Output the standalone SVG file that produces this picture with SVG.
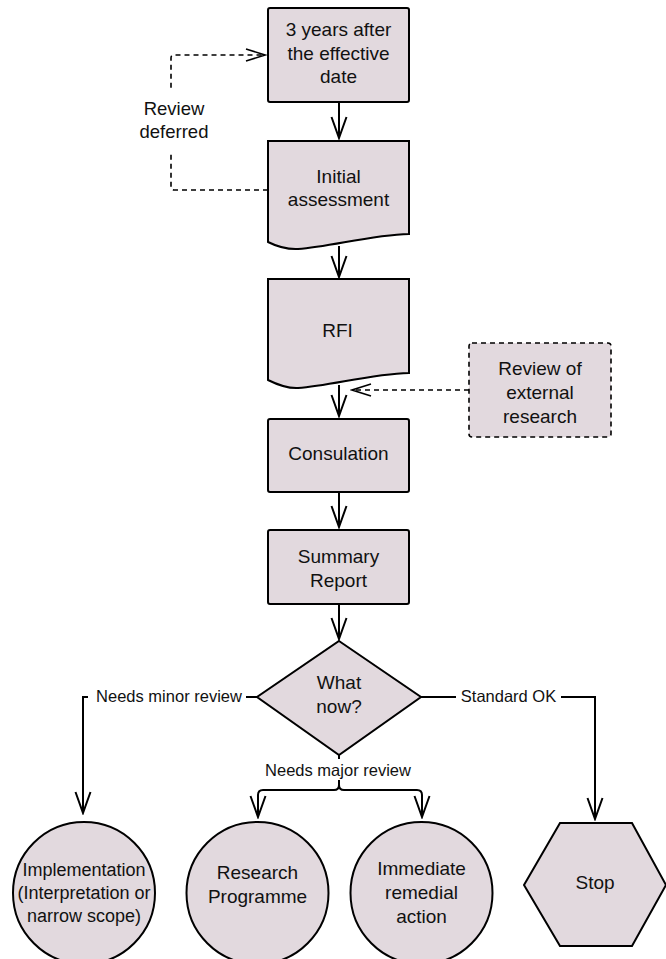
<svg xmlns="http://www.w3.org/2000/svg" width="666" height="959" viewBox="0 0 666 959">
<defs>
<style>
.n{fill:#e2d9de;stroke:#000;stroke-width:2}
.nd{fill:#e2d9de;stroke:#000;stroke-width:1.6;stroke-dasharray:5 4}
.t{font-family:"Liberation Sans",Arial,sans-serif;font-size:19px;fill:#111;text-anchor:middle}
.lb{font-family:"Liberation Sans",Arial,sans-serif;font-size:16.5px;fill:#111;text-anchor:middle}
.c{fill:none;stroke:#000;stroke-width:2}
.cd{fill:none;stroke:#000;stroke-width:1.6;stroke-dasharray:5 4}
.bg{fill:#fff}
</style>
<marker id="a" markerUnits="userSpaceOnUse" markerWidth="24" markerHeight="18" viewBox="0 0 24 18" refX="22" refY="9" orient="auto">
<path d="M1,1.5 L22,9 L1,16.5" fill="none" stroke="#000" stroke-width="2"/>
</marker>
<marker id="ad" markerUnits="userSpaceOnUse" markerWidth="22" markerHeight="16" viewBox="0 0 22 16" refX="20" refY="8" orient="auto">
<path d="M1,2 L20,8 L1,14" fill="none" stroke="#000" stroke-width="1.6"/>
</marker>
</defs>
<rect width="666" height="959" fill="#fff"/>

<g id="n-three-years">
<rect class="n" x="268" y="8" width="141" height="94" rx="2"/>
<text class="t" x="338.5" y="36">3 years after</text>
<text class="t" x="338.5" y="60">the effective</text>
<text class="t" x="338.5" y="83">date</text>
</g>

<g id="n-initial">
<path class="n" d="M268,141 H409 V234 C370,235 330,247 298,249 C288,249.5 278,247 268,242 Z"/>
<text class="t" x="338.5" y="183">Initial</text>
<text class="t" x="338.5" y="206">assessment</text>
</g>

<g id="n-rfi">
<path class="n" d="M268,279 H409 V373 C370,374 330,386 298,388 C288,388.5 278,385 268,380 Z"/>
<text class="t" x="337.5" y="337">RFI</text>
</g>

<g id="n-external">
<rect class="nd" x="469" y="343" width="142" height="94" rx="3"/>
<text class="t" x="540" y="375">Review of</text>
<text class="t" x="540" y="399">external</text>
<text class="t" x="540" y="423">research</text>
</g>

<g id="n-consulation">
<rect class="n" x="268" y="419" width="141" height="73" rx="2"/>
<text class="t" x="338.5" y="460">Consulation</text>
</g>

<g id="n-summary">
<rect class="n" x="268" y="530" width="141" height="74" rx="2"/>
<text class="t" x="338.5" y="563">Summary</text>
<text class="t" x="338.5" y="587">Report</text>
</g>

<g id="n-decision">
<polygon class="n" points="339,641 421,697 339,755 257,697"/>
<text class="t" x="339" y="689">What</text>
<text class="t" x="339" y="713">now?</text>
</g>

<g id="n-implementation">
<circle class="n" cx="84" cy="893" r="71"/>
<text class="t" x="84" y="876" style="font-size:18px">Implementation</text>
<text class="t" x="84" y="899" style="font-size:18px">(Interpretation or</text>
<text class="t" x="84" y="922" style="font-size:18px">narrow scope)</text>
</g>

<g id="n-research">
<circle class="n" cx="257.5" cy="893" r="71"/>
<text class="t" x="257.5" y="879">Research</text>
<text class="t" x="257.5" y="903">Programme</text>
</g>

<g id="n-immediate">
<circle class="n" cx="421.5" cy="893" r="71"/>
<text class="t" x="421.5" y="875">Immediate</text>
<text class="t" x="421.5" y="899">remedial</text>
<text class="t" x="421.5" y="923">action</text>
</g>

<g id="n-stop">
<polygon class="n" points="524,885 560,823 632,823 666,885 632,946 560,946"/>
<text class="t" x="595" y="889">Stop</text>
</g>

<g id="connectors">
<path class="c" d="M339,102 V138" marker-end="url(#a)"/>
<path class="c" d="M339,246 V277" marker-end="url(#a)"/>
<path class="c" d="M339,385 V416" marker-end="url(#a)"/>
<path class="c" d="M339,492 V527" marker-end="url(#a)"/>
<path class="c" d="M339,604 V639" marker-end="url(#a)"/>
<path class="cd" d="M268,190 H174 Q171,190 171,187 V58 Q171,55 174,55 H265" marker-end="url(#ad)"/>
<rect class="bg" x="160" y="91" width="30" height="63"/>
<text class="t" x="174" y="115" style="font-size:18.5px">Review</text>
<text class="t" x="174" y="138" style="font-size:18.5px">deferred</text>
<path class="cd" d="M469,390 H352" marker-end="url(#ad)"/>
<path class="c" d="M257,697 H83 V813" marker-end="url(#a)"/>
<rect class="bg" x="88" y="686" width="158" height="21"/>
<text class="lb" x="169" y="702">Needs minor review</text>
<path class="c" d="M421,697 H595 V819" marker-end="url(#a)"/>
<rect class="bg" x="456" y="686" width="105" height="21"/>
<text class="lb" x="508.5" y="702">Standard OK</text>
<path class="c" d="M339,755 V785 Q339,790 334,790 H263 Q258,790 258,795 V817" marker-end="url(#a)"/>
<path class="c" d="M339,785 Q339,790 344,790 H417 Q422,790 422,795 V817" marker-end="url(#a)"/>
<rect class="bg" x="262" y="759" width="152" height="21"/>
<text class="lb" x="338" y="776">Needs major review</text>
</g>
</svg>
